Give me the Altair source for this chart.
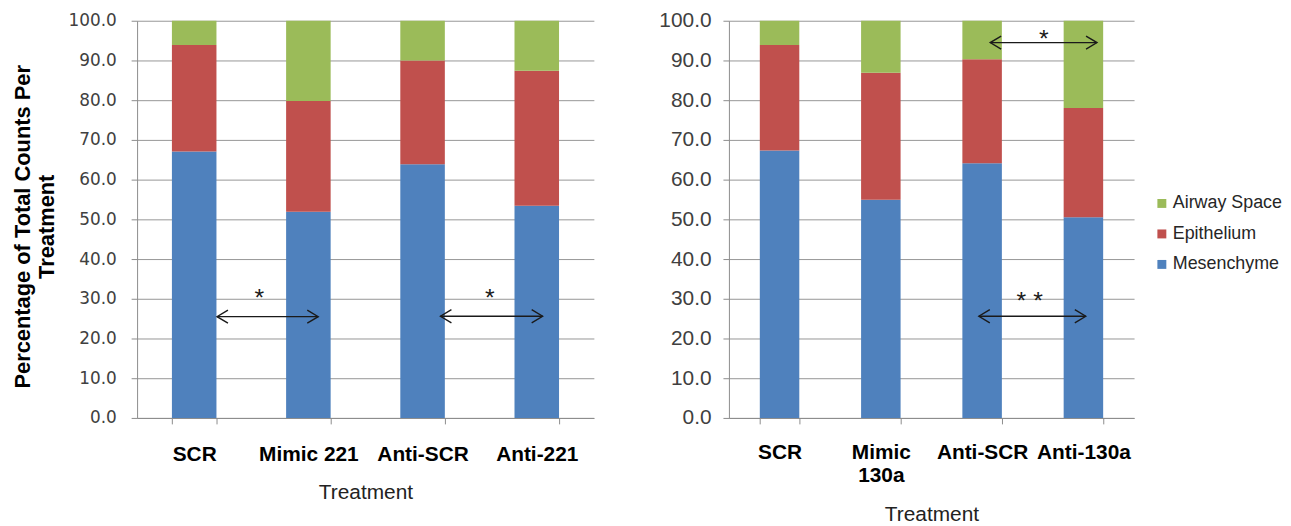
import altair as alt
import pandas as pd

# ---------------- data ----------------
legend_order = ["Airway Space", "Epithelium", "Mesenchyme"]
colors = ["#9BBB59", "#C0504D", "#4F81BD"]

left_treatments = ["SCR", "Mimic 221", "Anti-SCR", "Anti-221"]
left_mesenchyme = [67.1, 51.9, 63.9, 53.4]
left_epithelium = [26.8, 27.9, 26.1, 34.0]
left_airway = [6.1, 20.2, 10.0, 12.6]

right_treatments = ["SCR", "Mimic 130a", "Anti-SCR", "Anti-130a"]
right_mesenchyme = [67.3, 54.9, 64.1, 50.5]
right_epithelium = [26.6, 32.0, 26.2, 27.5]
right_airway = [6.1, 13.1, 9.7, 22.0]

# significance arrows, x in category units (0..4 across the axis)
left_arrow_start = [0.70, 2.657]
left_arrow_end = [1.586, 3.551]
left_arrow_y = [25.5, 25.6]
left_star_x = [1.07, 3.09]
left_star_y = [28.3, 28.3]
left_star_text = ["*", "*"]

right_arrow_start = [2.468, 2.58]
right_arrow_end = [3.523, 3.634]
right_arrow_y = [25.6, 94.5]
right_star_x = [2.97, 3.11]
right_star_y = [27.4, 93.5]
right_star_text = ["* *", "*"]

GRID = "#969696"
AXIS = "#8c8c8c"
INK = "#1a1a1a"


def panel(treatments, mes, epi, air, a_start, a_end, a_y, s_x, s_y, s_t,
          width, yaxis, xaxis, legend):
    df = pd.DataFrame({
        "treatment": treatments * 3,
        "component": ["Mesenchyme"] * 4 + ["Epithelium"] * 4 + ["Airway Space"] * 4,
        "value": mes + epi + air,
        "ord": [0] * 4 + [1] * 4 + [2] * 4,
    })
    ysc = alt.Scale(domain=[0, 100], nice=False)

    def qy():
        return alt.Y("value:Q", scale=ysc, axis=yaxis)

    bars = alt.Chart(df).mark_bar().encode(
        x=alt.X("treatment:N", sort=treatments,
                scale=alt.Scale(paddingInner=0.61, paddingOuter=0.305),
                axis=xaxis),
        y=alt.Y("value:Q", stack="zero", scale=ysc, axis=yaxis),
        color=alt.Color("component:N",
                        scale=alt.Scale(domain=legend_order, range=colors),
                        legend=legend),
        order=alt.Order("ord:Q", sort="ascending"),
    )
    adf = pd.DataFrame({"x1": a_start, "x2": a_end, "value": a_y})
    sdf = pd.DataFrame({"xs": s_x, "value": s_y, "label": s_t})

    def qx(field):
        return alt.X(field, scale=alt.Scale(domain=[0, 4], nice=False, zero=False), axis=None)

    rule = alt.Chart(adf).mark_rule(color=INK, strokeWidth=1.4).encode(
        x=qx("x1:Q"), x2="x2:Q", y=qy())
    lhead = alt.Chart(adf).mark_point(
        shape="M1,-0.6L0,0L1,0.6", size=484, filled=False, color=INK,
        strokeWidth=1.4, opacity=1).encode(x=qx("x1:Q"), y=qy())
    rhead = alt.Chart(adf).mark_point(
        shape="M-1,-0.6L0,0L-1,0.6", size=484, filled=False, color=INK,
        strokeWidth=1.4, opacity=1).encode(x=qx("x2:Q"), y=qy())
    stars = alt.Chart(sdf).mark_text(
        font="Liberation Sans", fontSize=25, baseline="alphabetic",
        align="center", color=INK).encode(
        x=qx("xs:Q"), y=qy(), text="label:N")
    return alt.layer(bars, rule, lhead, rhead, stars).resolve_scale(
        x="independent").properties(width=width, height=400)


common_y = dict(values=list(range(0, 101, 10)), format=".1f", tickSize=6,
                tickColor=AXIS, domainColor=AXIS, gridColor=GRID, grid=True,
                labelOverlap=False, tickCount=11)
common_x = dict(labelAngle=0, labelFont="Liberation Sans", labelFontSize=21,
                labelFontWeight="bold", labelColor="#000000", tickSize=6,
                tickBand="extent", tickColor=AXIS, domainColor=AXIS, grid=False,
                labelOverlap=False, title="Treatment", titleFont="Liberation Sans",
                titleFontSize=21, titleFontWeight="normal", titleColor="#222222",
                titleBaseline="alphabetic")

left_y = alt.Axis(labelFont="DejaVu Sans", labelFontSize=17, labelColor="#404040",
                  labelPadding=15,
                  title=["Percentage of Total Counts Per", "Treatment"],
                  titleFont="Liberation Sans", titleFontSize=22,
                  titleFontWeight="bold", titleColor="#000000",
                  titleLineHeight=24, titleBaseline="alphabetic",
                  titleX=-108, titleY=207, **common_y)
right_y = alt.Axis(labelFont="Liberation Sans", labelFontSize=21,
                   labelColor="#404040", labelPadding=12, title=None, **common_y)

left_x = alt.Axis(labelPadding=20, titleY=81.5, **common_x)
right_x = alt.Axis(labelPadding=18, titleY=103,
                   labelExpr="datum.label == 'Mimic 130a' ? ['Mimic', '130a'] : datum.label",
                   labelLineHeight=23, **common_x)

right_legend = alt.Legend(title=None, orient="none", legendX=427, legendY=175,
                          symbolType="square", symbolSize=81, symbolStrokeWidth=0,
                          labelFont="Liberation Sans", labelFontSize=18,
                          labelColor="#262626", rowPadding=12.7, labelOffset=2)

left = panel(left_treatments, left_mesenchyme, left_epithelium, left_airway,
             left_arrow_start, left_arrow_end, left_arrow_y,
             left_star_x, left_star_y, left_star_text,
             460, left_y, left_x, None)
right = panel(right_treatments, right_mesenchyme, right_epithelium, right_airway,
              right_arrow_start, right_arrow_end, right_arrow_y,
              right_star_x, right_star_y, right_star_text,
              408, right_y, right_x, right_legend)

chart = alt.hconcat(left, right, spacing=136, bounds="flush").resolve_scale(
    color="independent").properties(
    padding={"left": 3, "top": 0, "right": 0, "bottom": 0},
    background="white").configure_view(stroke=None)

chart.save("out.html", embed_options={"renderer": "svg", "actions": False})
